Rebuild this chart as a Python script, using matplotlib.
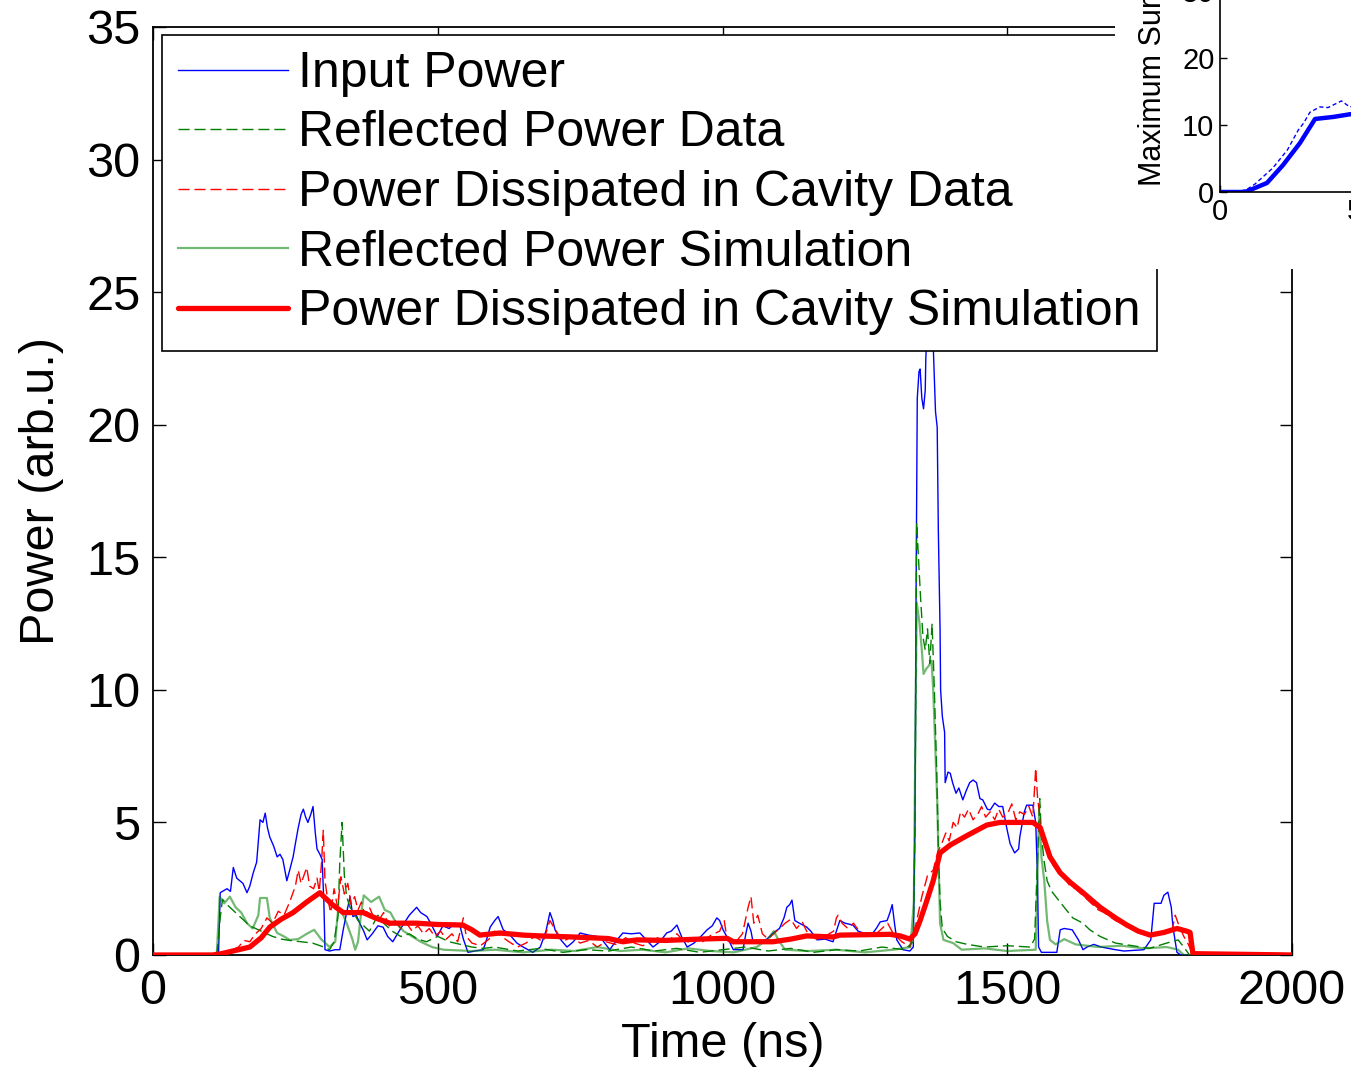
import matplotlib
matplotlib.use("Agg")
import matplotlib.pyplot as plt
from matplotlib.patches import Rectangle

plt.rcParams['font.family'] = ['Liberation Sans', 'DejaVu Sans']

# ---------------- data ----------------
# Input Power
t_in = [0, 110, 115, 118, 130, 136, 141, 147, 158, 165, 170, 176, 182, 188, 193, 197, 201, 205, 212, 218,
        223, 228, 235, 240, 246, 250, 255, 260, 264, 268, 272, 277, 281, 285, 288, 293, 297, 300, 302, 310,
        320, 328, 334, 340, 346, 351, 357, 363, 370, 376, 385, 395, 404, 412, 421, 435, 450, 463, 470, 481,
        490, 499, 509, 520, 530, 539, 545, 553, 565, 580, 586, 592, 600, 606, 615, 625, 639, 650, 667, 680,
        690, 697, 702, 706, 715, 727, 738, 750, 765, 785, 795, 802, 812, 825, 840, 855, 865, 878, 890, 902,
        910, 920, 928, 938, 950, 962, 973, 982, 990, 995, 1001, 1010, 1019, 1036, 1041, 1045, 1050, 1054, 1065, 1078,
        1089, 1100, 1108, 1113, 1118, 1122, 1127, 1135, 1148, 1155, 1166, 1180, 1194, 1200, 1206, 1215, 1229, 1238, 1247, 1264,
        1270, 1277, 1289, 1294, 1298, 1302, 1306, 1317, 1329, 1335, 1338, 1340, 1342, 1345, 1347, 1350, 1353, 1356, 1357, 1359,
        1363, 1367, 1370, 1374, 1377, 1379, 1380, 1382, 1383, 1386, 1390, 1391, 1396, 1400, 1404, 1410, 1415, 1422, 1428, 1434,
        1440, 1446, 1452, 1457, 1465, 1470, 1478, 1485, 1492, 1499, 1505, 1513, 1520, 1522, 1530, 1534, 1545, 1550, 1553, 1555,
        1560, 1587, 1593, 1600, 1614, 1625, 1633, 1640, 1652, 1665, 1690, 1705, 1740, 1752, 1758, 1770, 1775, 1782, 1788, 1791,
        1798, 1805, 2000]
p_in = [0, 0, 0, 2.35, 2.5, 2.4, 3.3, 2.9, 2.7, 2.35, 2.6, 3.1, 3.5, 5.1, 5.0, 5.35, 4.8, 4.45, 4.1, 3.7,
        3.8, 3.6, 2.8, 3.2, 3.7, 4.2, 4.8, 5.3, 5.5, 5.2, 5.0, 5.3, 5.6, 4.6, 4.0, 3.8, 3.6, 2.0, 0.2, 0.15,
        0.2, 0.2, 0.95, 1.6, 2.2, 1.45, 1.5, 1.2, 0.9, 0.57, 0.8, 1.1, 1.05, 0.7, 0.5, 1.0, 1.5, 1.8, 1.6, 1.45,
        1.1, 0.7, 1.1, 1.0, 1.2, 1.1, 0.6, 0.1, 0.15, 0.2, 0.6, 1.05, 1.3, 1.45, 0.95, 0.8, 0.45, 0.3, 0.1, 0.3,
        0.9, 1.6, 1.3, 0.95, 0.6, 0.3, 0.5, 0.83, 0.75, 0.68, 0.4, 0.2, 0.5, 0.83, 0.8, 0.83, 0.6, 0.3, 0.5, 0.83,
        0.9, 1.13, 0.7, 0.3, 0.45, 0.7, 0.95, 1.1, 1.4, 1.3, 0.95, 0.6, 0.2, 0.2, 0.8, 1.2, 0.9, 0.45, 0.5, 0.6,
        0.83, 1.0, 1.4, 1.8, 1.9, 2.07, 1.3, 1.2, 1.05, 0.9, 0.57, 0.6, 0.5, 0.9, 1.3, 1.2, 1.13, 0.9, 0.83, 0.83,
        1.0, 1.25, 1.3, 1.6, 1.9, 1.2, 0.57, 0.2, 0.15, 0.3, 5.0, 14.0, 21.0, 22.0, 22.1, 21.0, 20.6, 21.3, 22.5, 23.5,
        25.0, 24.0, 23.0, 20.5, 19.9, 16.0, 14.8, 12.3, 10.0, 9.0, 8.4, 6.5, 6.9, 6.85, 6.5, 6.1, 6.3, 5.85, 6.2, 6.5,
        6.6, 6.5, 5.9, 5.85, 5.5, 5.47, 5.73, 5.6, 5.6, 4.8, 4.2, 3.85, 4.0, 4.45, 5.4, 5.65, 5.65, 5.0, 3.0, 0.3,
        0.1, 0.1, 0.95, 1.0, 0.95, 0.57, 0.2, 0.3, 0.4, 0.3, 0.2, 0.15, 0.2, 0.57, 1.95, 1.95, 2.25, 2.37, 1.8, 1.05,
        0.1, 0, 0]

# Reflected Power Data
t_rd = [0, 112, 118, 122, 130, 140, 150, 160, 170, 180, 190, 200, 210, 225, 240, 260, 280, 300, 310, 318,
        325, 328, 332, 336, 340, 346, 352, 360, 370, 380, 395, 405, 420, 435, 450, 465, 480, 500, 520, 540,
        560, 580, 600, 640, 680, 720, 760, 800, 840, 880, 920, 960, 1000, 1040, 1080, 1120, 1160, 1200, 1240, 1280,
        1320, 1335, 1338, 1341, 1345, 1348, 1352, 1356, 1360, 1364, 1368, 1372, 1376, 1379, 1382, 1386, 1395, 1410, 1430, 1460,
        1500, 1540, 1548, 1553, 1557, 1560, 1565, 1570, 1578, 1590, 1600, 1615, 1633, 1645, 1663, 1690, 1750, 1780, 1800, 1810,
        1820, 2000]
p_rd = [0, 0, 1.4, 2.1, 1.9, 1.7, 1.5, 1.3, 1.1, 1.0, 0.9, 0.8, 0.7, 0.6, 0.55, 0.5, 0.45, 0.3, 0.2, 0.5,
        1.5, 3.5, 5.0, 3.0, 2.2, 1.8, 1.6, 1.3, 1.1, 0.9, 1.5, 1.2, 0.9, 0.7, 0.8, 0.6, 0.5, 0.7, 0.5, 0.4,
        0.3, 0.25, 0.3, 0.15, 0.25, 0.1, 0.2, 0.15, 0.3, 0.15, 0.25, 0.1, 0.2, 0.3, 0.15, 0.25, 0.1, 0.2, 0.15, 0.3,
        0.2, 0.5, 5.0, 16.3, 14.6, 13.4, 12.0, 11.5, 12.3, 11.0, 12.5, 10.0, 7.0, 4.0, 2.0, 1.0, 0.7, 0.5, 0.4, 0.3,
        0.35, 0.3, 0.6, 3.5, 5.9, 4.5, 3.5, 2.8, 2.4, 2.07, 1.8, 1.4, 1.2, 0.95, 0.7, 0.45, 0.25, 0.45, 0.57, 0.3,
        0, 0]

# Power Dissipated in Cavity Data
t_dd = [0, 110, 125, 140, 150, 160, 170, 180, 190, 200, 210, 220, 230, 240, 250, 255, 260, 265, 270, 275,
        282, 288, 292, 296, 299, 302, 306, 312, 318, 324, 330, 336, 342, 348, 354, 360, 366, 372, 380, 388,
        396, 405, 415, 425, 435, 445, 455, 465, 475, 485, 495, 505, 515, 525, 535, 545, 550, 560, 575, 590,
        600, 612, 625, 640, 655, 670, 685, 697, 705, 720, 735, 750, 765, 780, 795, 812, 830, 845, 860, 875,
        890, 905, 920, 935, 950, 965, 980, 995, 1003, 1008, 1020, 1035, 1045, 1050, 1055, 1062, 1070, 1080, 1095, 1110,
        1120, 1130, 1140, 1150, 1165, 1180, 1195, 1200, 1203, 1210, 1220, 1230, 1240, 1250, 1265, 1280, 1290, 1300, 1315, 1329,
        1340, 1350, 1360, 1370, 1378, 1385, 1392, 1398, 1405, 1412, 1418, 1425, 1432, 1440, 1448, 1455, 1462, 1470, 1478, 1485,
        1492, 1500, 1508, 1515, 1522, 1530, 1538, 1545, 1550, 1553, 1558, 1563, 1570, 1580, 1590, 1600, 1610, 1620, 1630, 1640,
        1650, 1660, 1670, 1680, 1690, 1700, 1710, 1720, 1730, 1740, 1750, 1760, 1770, 1780, 1790, 1795, 1800, 1810, 1818, 1826,
        2000]
p_dd = [0, 0, 0.1, 0.2, 0.3, 0.55, 0.5, 0.8, 1.0, 1.4, 1.2, 1.65, 1.5, 2.0, 2.6, 3.2, 2.7, 3.0, 3.3, 2.6,
        2.5, 2.9, 2.4, 3.5, 4.7, 2.8, 2.2, 1.6, 2.5, 1.8, 2.95, 2.3, 2.7, 1.9, 2.2, 1.7, 2.0, 1.5, 1.8, 1.4,
        1.3, 1.6, 1.1, 1.3, 1.0, 1.2, 0.9, 1.1, 0.8, 1.0, 0.7, 0.9, 0.6, 0.8, 0.5, 1.4, 0.7, 0.45, 0.35, 0.6,
        0.9, 0.7, 0.5, 0.3, 0.45, 0.7, 0.5, 1.3, 1.0, 0.5, 0.7, 0.45, 0.55, 0.3, 0.5, 0.4, 0.65, 0.45, 0.35, 0.5,
        0.7, 0.55, 0.8, 0.45, 0.6, 0.5, 0.75, 0.9, 1.3, 0.6, 0.4, 0.8, 1.8, 2.2, 1.2, 1.5, 0.8, 0.6, 0.9, 1.2,
        1.35, 1.0, 1.25, 0.8, 0.6, 0.7, 0.9, 1.4, 1.5, 1.2, 1.0, 1.2, 0.9, 0.8, 0.7, 1.0, 1.2, 0.8, 0.5, 0.3,
        1.2, 2.2, 3.0, 3.2, 3.9, 4.2, 4.6, 4.3, 5.0, 4.8, 5.4, 5.2, 5.5, 5.1, 5.3, 5.6, 5.2, 5.4, 5.1, 5.5,
        5.2, 5.3, 5.7, 5.1, 5.4, 5.3, 5.6, 5.2, 7.05, 6.0, 5.0, 4.3, 3.9, 3.4, 3.1, 2.95, 2.6, 2.5, 2.3, 2.1,
        1.9, 1.7, 1.6, 1.45, 1.3, 1.2, 1.1, 0.95, 0.9, 0.8, 0.75, 0.85, 0.8, 0.9, 1.0, 1.5, 1.2, 0.7, 0.4, 0,
        0]

# Reflected Power Simulation
t_rs = [0, 112, 117, 125, 135, 145, 155, 165, 175, 185, 188, 200, 205, 218, 230, 240, 255, 270, 283, 295,
        310, 320, 325, 330, 340, 350, 355, 360, 365, 370, 383, 397, 407, 417, 427, 440, 455, 470, 490, 510,
        560, 600, 650, 700, 740, 780, 820, 860, 900, 940, 980, 1020, 1060, 1080, 1090, 1100, 1110, 1150, 1200, 1250,
        1300, 1330, 1336, 1339, 1341, 1346, 1350, 1353, 1358, 1362, 1367, 1370, 1377, 1382, 1388, 1405, 1420, 1460, 1500, 1550,
        1553, 1556, 1560, 1565, 1570, 1575, 1585, 1600, 1620, 1660, 1700, 1740, 1780, 1800, 1810, 2000]
p_rs = [0, 0, 2.2, 1.95, 2.2, 1.8, 1.6, 1.2, 1.0, 1.5, 2.15, 2.15, 1.4, 0.83, 0.7, 0.57, 0.6, 0.8, 0.95, 0.6,
        0.3, 0.5, 1.7, 1.7, 1.2, 0.6, 0.2, 0.5, 1.5, 2.25, 2.0, 2.2, 1.7, 1.6, 1.2, 0.9, 0.7, 0.5, 0.3, 0.2,
        0.15, 0.2, 0.1, 0.2, 0.15, 0.3, 0.15, 0.2, 0.1, 0.25, 0.15, 0.1, 0.3, 0.6, 0.9, 0.5, 0.2, 0.15, 0.2, 0.1,
        0.2, 0.3, 2.0, 9.0, 13.3, 12.5, 11.5, 10.6, 10.8, 10.9, 11.1, 10.0, 5.85, 1.2, 0.57, 0.45, 0.2, 0.25, 0.15, 0.2,
        3.0, 5.5, 3.7, 2.8, 1.3, 0.57, 0.4, 0.6, 0.4, 0.3, 0.35, 0.25, 0.3, 0.2, 0, 0]

# Power Dissipated in Cavity Simulation
t_ds = [0, 105, 120, 140, 170, 190, 205, 225, 246, 270, 293, 300, 315, 334, 369, 390, 416, 463, 500, 544,
        560, 574, 609, 650, 680, 737, 800, 825, 850, 900, 960, 1008, 1019, 1089, 1120, 1148, 1194, 1206, 1294, 1312,
        1329, 1338, 1347, 1358, 1370, 1382, 1400, 1429, 1464, 1487, 1545, 1558, 1575, 1593, 1610, 1633, 1663, 1690, 1710, 1730,
        1751, 1775, 1798, 1815, 1821, 1826, 2000]
p_ds = [0, 0, 0.05, 0.15, 0.3, 0.65, 1.05, 1.35, 1.6, 2.0, 2.35, 2.2, 1.9, 1.6, 1.6, 1.4, 1.2, 1.2, 1.15, 1.13,
        0.95, 0.75, 0.83, 0.75, 0.72, 0.68, 0.62, 0.5, 0.57, 0.55, 0.6, 0.63, 0.5, 0.5, 0.6, 0.72, 0.68, 0.75, 0.78, 0.72,
        0.6, 0.8, 1.3, 2.0, 2.8, 3.85, 4.15, 4.5, 4.9, 5.0, 5.0, 4.8, 3.7, 3.1, 2.75, 2.35, 1.8, 1.4, 1.13, 0.9,
        0.75, 0.85, 1.0, 0.9, 0.85, 0.05, 0]

# inset: maximum surface field
x_in_sim = [0, 0.8, 1.0, 1.74, 2.33, 2.96, 3.52, 4.19, 4.81, 6.0, 8.0, 10.0]
y_in_sim = [0, 0, 0.1, 1.35, 4.0, 7.3, 10.9, 11.2, 11.6, 11.8, 11.9, 12.0]
x_in_dat = [0, 0.7, 1.0, 1.3, 1.96, 2.5, 2.9, 3.1, 3.33, 3.7, 4.0, 4.2, 4.5, 4.8, 5.2, 6.0, 8.0, 10.0]
y_in_dat = [0, 0, 0.4, 1.2, 3.6, 6.3, 9.25, 10.3, 11.9, 12.7, 12.6, 13.0, 13.6, 12.7, 13.0, 12.8, 13.1, 12.9]

labels = ['Input Power', 'Reflected Power Data', 'Power Dissipated in Cavity Data',
          'Reflected Power Simulation', 'Power Dissipated in Cavity Simulation']
xticks = [0, 500, 1000, 1500, 2000]
yticks = [0, 5, 10, 15, 20, 25, 30, 35]

# ---------------- figure ----------------
W, H = 1351, 1070
fig = plt.figure(figsize=(W / 100, H / 100), dpi=100)
ax = fig.add_axes([153 / W, (H - 955) / H, (1292 - 153) / W, (955 - 27) / H])

ax.plot(t_in, p_in, color='#0000ff', lw=1.0, label=labels[0], zorder=3)
ax.plot(t_rd, p_rd, color='#007f00', lw=1.0, ls=(0, (8, 3.5)), label=labels[1], zorder=3)
ax.plot(t_dd, p_dd, color='#ff0000', lw=1.0, ls=(0, (8, 3.5)), label=labels[2], zorder=3)
ax.plot(t_rs, p_rs, color='#007f00', alpha=0.55, lw=1.6, label=labels[3], zorder=3)
ax.plot(t_ds, p_ds, color='#ff0000', lw=3.8, label=labels[4], zorder=4, solid_capstyle='round')

ax.set_xlim(0, 2000)
ax.set_ylim(0, 35)
ax.set_xticks(xticks)
ax.set_yticks(yticks)
ax.tick_params(direction='in', length=9, width=1, top=True, right=True, labelsize=35)
ax.tick_params(axis='x', pad=10)
ax.tick_params(axis='y', pad=9)
for s in ax.spines.values():
    s.set_linewidth(1.3)
ax.set_xlabel('Time (ns)', fontsize=35, labelpad=6)
ax.set_ylabel('Power (arb.u.)', fontsize=35, labelpad=16)

leg = ax.legend(loc='upper left', bbox_to_anchor=((162 - 153) / 1139, (955 - 35) / 928),
                borderaxespad=0, fontsize=36, handlelength=2.2, handletextpad=0.2,
                labelspacing=0.27, borderpad=0.32, fancybox=False, framealpha=1, edgecolor='black')
leg.get_frame().set_linewidth(1.2)
leg.set_zorder(10)

# white area of the inset figure covering the top-right corner
fig.add_artist(Rectangle((1115 / W, (H - 269) / H), 0.3, 0.3, transform=fig.transFigure,
                         facecolor='white', edgecolor='none', zorder=5))

ax2 = fig.add_axes([1220 / W, (H - 192) / H, 270 / W, 201 / H])
ax2.set_zorder(6)
ax2.plot(x_in_sim, y_in_sim, color='#0000ff', lw=3.2)
ax2.plot(x_in_dat, y_in_dat, color='#0000ff', lw=1.0, ls=(0, (3, 2)))
ax2.set_xlim(0, 10)
ax2.set_ylim(0, 30)
ax2.set_xticks([0, 5, 10])
ax2.set_yticks([0, 10, 20, 30])
ax2.tick_params(direction='in', length=5, width=1, top=True, right=True, labelsize=21, pad=4)
for s in ax2.spines.values():
    s.set_linewidth(1.2)
fig.text(1153 / W, (H - 186) / H, 'Maximum Surface Field (MV/m)', rotation=90,
         ha='center', va='bottom', fontsize=22, zorder=7)

fig.savefig('out.png', dpi=100)
